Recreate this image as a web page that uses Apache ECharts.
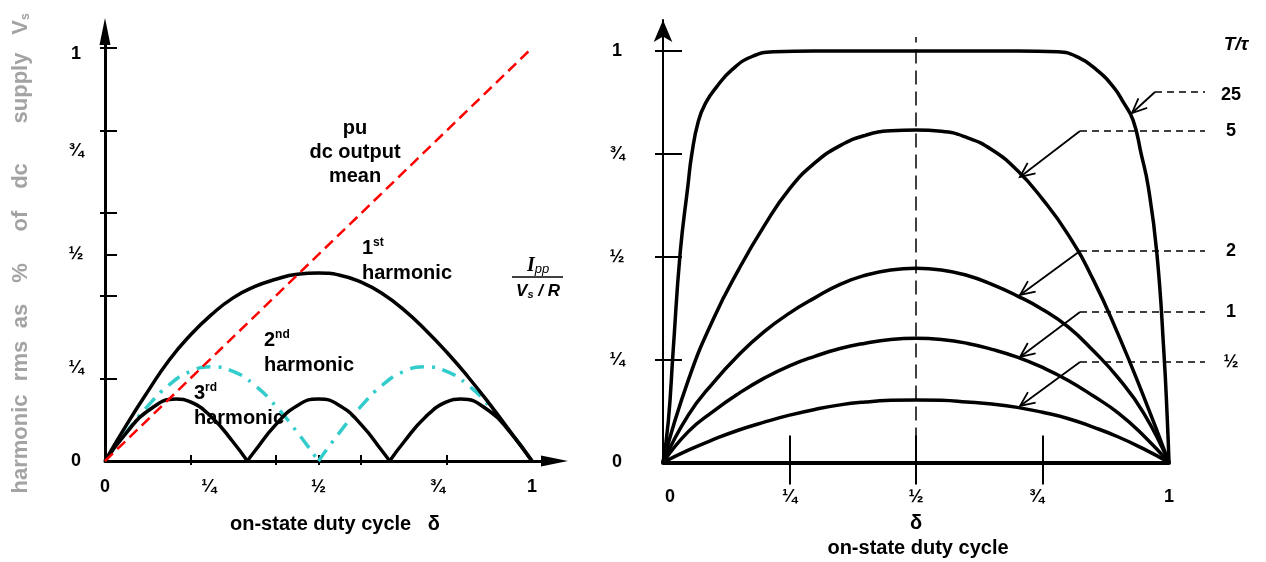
<!DOCTYPE html>
<html><head><meta charset="utf-8">
<script src="https://cdn.jsdelivr.net/npm/echarts@6/dist/echarts.min.js"></script>
<style>html,body{margin:0;padding:0;background:#fff}#c{width:1266px;height:562px}</style>
</head><body><div id="c"></div>
<script>
// ---------- data ----------
const tickLabelValues = [0, 0.25, 0.5, 0.75, 1];
const tickLabelText = {0: '0', 0.25: '¼', 0.5: '½', 0.75: '¾', 1: '1'};
const leftMinorTicks = [0.2, 0.4, 0.5, 0.6, 0.8, 1];
const leftMinorTicksOut = [0.2, 0.4, 0.6, 0.8, 1];
const leftXTicks = [0.2, 0.4, 0.5, 0.6, 0.8];
const rightXTicks = [0.25, 0.5, 0.75];
const rightYTicks = [0.25, 0.5, 0.75, 1];

// left panel: harmonics vs duty cycle
const dcMean = [[0, 0], [1, 1]];
const harm1 = [[0,0],[0.05,0.087],[0.1,0.168],[0.15,0.244],[0.2,0.305],[0.25,0.355],[0.3,0.395],[0.35,0.422],[0.4,0.44],[0.45,0.452],[0.5,0.455],
  [0.55,0.45],[0.6,0.433],[0.65,0.405],[0.7,0.366],[0.75,0.318],[0.8,0.264],[0.85,0.204],[0.9,0.139],[0.95,0.07],[1,0]];
const harm2a = [[0,0],[0.05,0.07],[0.1,0.133],[0.15,0.184],[0.2,0.217],[0.25,0.228],[0.3,0.217],[0.35,0.184],[0.4,0.133],[0.45,0.07],[0.5,0]];
const harm2b = [[0.5,0],[0.55,0.07],[0.6,0.133],[0.65,0.184],[0.7,0.217],[0.75,0.228],[0.8,0.217],[0.85,0.184],[0.9,0.133],[0.95,0.07],[1,0]];
const harm3a = [[0,0],[0.05,0.068],[0.1,0.121],[0.1667,0.15],[0.2,0.143],[0.25,0.106],[0.3,0.046],[0.3333,0]];
const harm3b = [[0.3333,0],[0.35,0.023],[0.4,0.088],[0.45,0.134],[0.5,0.15],[0.55,0.134],[0.6,0.088],[0.65,0.023],[0.6667,0]];
const harm3c = [[0.6667,0],[0.7,0.046],[0.75,0.106],[0.8,0.143],[0.8333,0.15],[0.9,0.121],[0.95,0.068],[1,0]];

// right panel: ripple current Ipp/(Vs/R) vs duty cycle
const delta = [0,0.05,0.1,0.15,0.2,0.25,0.3,0.35,0.4,0.45,0.5,0.55,0.6,0.65,0.7,0.75,0.8,0.85,0.9,0.95,1];
const ripple5 = [0,0.20,0.35,0.47,0.575,0.665,0.728,0.77,0.795,0.806,0.808,0.805,0.79,0.76,0.71,0.64,0.555,0.445,0.31,0.16,0];
const ripple2 = [0,0.115,0.195,0.262,0.318,0.363,0.40,0.433,0.455,0.468,0.472,0.468,0.455,0.433,0.405,0.372,0.33,0.272,0.205,0.12,0];
const ripple1 = [0,0.075,0.125,0.168,0.205,0.235,0.258,0.277,0.29,0.299,0.302,0.299,0.29,0.275,0.256,0.231,0.20,0.162,0.12,0.065,0];
const rippleHalf = [0,0.03,0.056,0.079,0.098,0.115,0.129,0.14,0.147,0.151,0.152,0.151,0.147,0.142,0.134,0.122,0.107,0.086,0.062,0.033,0];
const ripple25 = [[0,0],[0.0105,0.10],[0.02,0.27],[0.034,0.51],[0.049,0.67],[0.057,0.75],[0.07,0.83],[0.085,0.875],[0.106,0.913],[0.136,0.954],[0.175,0.986],[0.22,0.998],[0.3,1],[0.4,1],[0.5,1],[0.6,1],[0.7,1],[0.78,0.998],[0.82,0.985],[0.857,0.954],[0.89,0.913],[0.91,0.875],[0.929,0.832],[0.945,0.75],[0.959,0.67],[0.976,0.509],[0.99,0.266],[0.9967,0.103],[1,0]];
const halfLine = [[0.5, 0], [0.5, 1.034]];
const rippleLabels = ['25', '5', '2', '1', '½'];

// ---------- layout ----------
const FONT = '"Liberation Sans", Arial, sans-serif';
const pairs = (xs, ys) => xs.map((x, i) => [x, ys[i]]);
const annot = [
  {y: 92, sx: 1155, tip: [1132, 113]},
  {y: 131, sx: 1080, tip: [1020, 177]},
  {y: 251, sx: 1080, tip: [1020, 295]},
  {y: 312, sx: 1080, tip: [1020, 357]},
  {y: 362, sx: 1080, tip: [1020, 406]}
];

const chart = echarts.init(document.getElementById('c'), null, {renderer: 'canvas', width: 1266, height: 562});

const labelStyle = {fontFamily: FONT, fontWeight: 'bold', fontSize: 18, color: '#000'};
function lineS(data, xi, yi, style, smooth) {
  return {type: 'line', xAxisIndex: xi, yAxisIndex: yi, data: data, symbol: 'none', showSymbol: false,
    smooth: smooth === undefined ? 0.5 : smooth, lineStyle: style, silent: true, clip: false, animation: false};
}

const graphics = [];
// left y-axis name words (rotated, grey)
const yWords = [['harmonic', 444], ['rms', 361], ['as', 316], ['%', 273], ['of', 221], ['dc', 176], ['supply', 88]];
yWords.forEach(([w, y]) => graphics.push({type: 'text', x: 21, y: y, rotation: Math.PI / 2,
  style: {text: w, fill: '#a3a3a3', font: 'bold 22px ' + FONT, textAlign: 'center', textVerticalAlign: 'middle'}}));
graphics.push({type: 'text', x: 21, y: 24, rotation: Math.PI / 2,
  style: {text: '{v|V}{s|s}', textAlign: 'center', textVerticalAlign: 'middle',
    rich: {v: {fill: '#a3a3a3', font: 'bold 22px ' + FONT}, s: {fill: '#a3a3a3', font: 'bold 12px ' + FONT, padding: [10, 0, 0, 0]}}}});

// left panel labels
graphics.push({type: 'text', x: 355, y: 152, style: {text: 'pu\ndc output\nmean', fill: '#000', font: 'bold 20px ' + FONT, textAlign: 'center', textVerticalAlign: 'middle', lineHeight: 24}});
function ordLabel(num, sup, x, y) {
  graphics.push({type: 'text', x: x, y: y, style: {text: '{n|' + num + '}{s|' + sup + '}\n{h|harmonic}', textAlign: 'left', textVerticalAlign: 'middle',
    rich: {n: {fill: '#000', font: 'bold 20px ' + FONT, lineHeight: 26}, s: {fill: '#000', font: 'bold 12px ' + FONT, padding: [0, 0, 10, 0], lineHeight: 26}, h: {fill: '#000', font: 'bold 20px ' + FONT, lineHeight: 24}}}});
}
ordLabel('1', 'st', 362, 260);
ordLabel('2', 'nd', 264, 352);
ordLabel('3', 'rd', 194, 405);
// Ipp / (Vs/R)
graphics.push({type: 'text', x: 538, y: 266, style: {text: '{i|I}{p|pp}', textAlign: 'center', textVerticalAlign: 'middle',
  rich: {i: {fill: '#000', font: 'italic bold 20px "Liberation Serif", serif'}, p: {fill: '#000', font: 'italic 13px ' + FONT, padding: [6, 0, 0, 0]}}}});
graphics.push({type: 'line', shape: {x1: 512, y1: 277, x2: 563, y2: 277}, style: {stroke: '#000', lineWidth: 1.5}});
graphics.push({type: 'text', x: 538, y: 291, style: {text: '{v|V}{s|s}{r| / R}', textAlign: 'center', textVerticalAlign: 'middle',
  rich: {v: {fill: '#000', font: 'italic bold 17px ' + FONT}, s: {fill: '#000', font: 'italic bold 11px ' + FONT, padding: [7, 0, 0, 0]}, r: {fill: '#000', font: 'italic bold 17px ' + FONT}}}});
graphics.push({type: 'text', x: 335, y: 524, style: {text: 'on-state duty cycle   δ', fill: '#000', font: 'bold 20px ' + FONT, textAlign: 'center', textVerticalAlign: 'middle'}});

// right panel labels
graphics.push({type: 'text', x: 1236, y: 45, style: {text: 'T/τ', fill: '#000', font: 'italic bold 19px ' + FONT, textAlign: 'center', textVerticalAlign: 'middle'}});
graphics.push({type: 'text', x: 916, y: 523, style: {text: 'δ', fill: '#000', font: 'bold 20px ' + FONT, textAlign: 'center', textVerticalAlign: 'middle'}});
graphics.push({type: 'text', x: 918, y: 548, style: {text: 'on-state duty cycle', fill: '#000', font: 'bold 20px ' + FONT, textAlign: 'center', textVerticalAlign: 'middle'}});
annot.forEach((a, i) => {
  graphics.push({type: 'line', shape: {x1: a.sx, y1: a.y, x2: 1205, y2: a.y}, style: {stroke: '#000', lineWidth: 1.5, lineDash: [7, 5]}});
  graphics.push({type: 'line', shape: {x1: a.sx, y1: a.y, x2: a.tip[0], y2: a.tip[1]}, style: {stroke: '#000', lineWidth: 1.8}});
  const dx = a.sx - a.tip[0], dy = a.y - a.tip[1], L = Math.hypot(dx, dy);
  const ux = dx / L, uy = dy / L, ang = 0.42, len = 16;
  const p1 = [a.tip[0] + len * (ux * Math.cos(ang) - uy * Math.sin(ang)), a.tip[1] + len * (ux * Math.sin(ang) + uy * Math.cos(ang))];
  const p2 = [a.tip[0] + len * (ux * Math.cos(-ang) - uy * Math.sin(-ang)), a.tip[1] + len * (ux * Math.sin(-ang) + uy * Math.cos(-ang))];
  graphics.push({type: 'polyline', shape: {points: [p1, a.tip, p2]}, style: {stroke: '#000', lineWidth: 1.8, fill: null}});
  graphics.push({type: 'text', x: 1231, y: a.y + (i === 0 ? 3 : 0), style: {text: rippleLabels[i], fill: '#000', font: 'bold 18px ' + FONT, textAlign: 'center', textVerticalAlign: 'middle'}});
});

// tick labels with small per-label nudges (as printed in the source figure)
const richShift = {
  d: {}, r: {padding: [0, 6, 0, 0]}, rr: {padding: [0, 0, 0, 24]},
  dn: {padding: [12, 0, 0, 0]}, dn2: {padding: [20, 0, 0, 0]}, ll: {padding: [0, 12, 0, 0]}, lr: {padding: [0, 0, 0, 14]}
};
const mkFmt = shifts => v => {
  const t = tickLabelText[v];
  if (t === undefined) return '';
  return '{' + (shifts[v] || 'd') + '|' + t + '}';
};
const leftXFmt = mkFmt({0.25: 'r', 0.75: 'rr'});
const leftYFmt = mkFmt({1: 'dn', 0.25: 'dn2'});
const rightXFmt = mkFmt({0: 'lr', 0.75: 'll'});
const rightYFmt = mkFmt({});
const lab = (fmt, margin, extra) => Object.assign({show: true, customValues: tickLabelValues, formatter: fmt, margin: margin, rich: richShift}, labelStyle, extra || {});

const option = {
  animation: false,
  backgroundColor: '#fff',
  grid: [
    {left: 105, top: 31.5, width: 449.5, height: 429.5},
    {left: 663, top: 20, width: 506, height: 442.5}
  ],
  visualMap: [{type: 'piecewise', show: false, seriesIndex: 5, dimension: 0,
    pieces: [{gt: 0.603, lte: 0.658, color: '#8c8c8c'}], outOfRange: {color: '#000'}}],
  xAxis: [
    {type: 'value', gridIndex: 0, min: 0, max: 1.0527, splitLine: {show: false},
      axisLine: {show: true, symbol: ['none', 'triangle'], symbolSize: [11, 27], lineStyle: {color: '#000', width: 3}},
      axisTick: {show: true, inside: true, length: 6, customValues: leftXTicks, lineStyle: {color: '#000', width: 2}},
      axisLabel: lab(leftXFmt, 17)},
    {type: 'value', gridIndex: 0, min: 0, max: 1.0527, position: 'bottom', splitLine: {show: false},
      axisLine: {show: false}, axisTick: {show: true, inside: false, length: 4, customValues: leftXTicks, lineStyle: {color: '#000', width: 2}},
      axisLabel: {show: false}},
    {type: 'value', gridIndex: 1, min: 0, max: 1, splitLine: {show: false},
      axisLine: {show: true, lineStyle: {color: '#000', width: 4}},
      axisTick: {show: true, inside: true, length: 27, customValues: rightXTicks, lineStyle: {color: '#000', width: 2}},
      axisLabel: lab(rightXFmt, 26)},
    {type: 'value', gridIndex: 1, min: 0, max: 1, position: 'bottom', splitLine: {show: false},
      axisLine: {show: false}, axisTick: {show: true, inside: false, length: 22, customValues: rightXTicks, lineStyle: {color: '#000', width: 2}},
      axisLabel: {show: false}}
  ],
  yAxis: [
    {type: 'value', gridIndex: 0, min: 0, max: 1.04, splitLine: {show: false},
      axisLine: {show: true, symbol: ['none', 'triangle'], symbolSize: [11, 27], lineStyle: {color: '#000', width: 3}},
      axisTick: {show: true, inside: true, length: 12, customValues: leftMinorTicks, lineStyle: {color: '#000', width: 2}},
      axisLabel: lab(leftYFmt, 29, {align: 'center'})},
    {type: 'value', gridIndex: 0, min: 0, max: 1.04, position: 'left', splitLine: {show: false},
      axisLine: {show: false}, axisTick: {show: true, inside: false, length: 5, customValues: leftMinorTicksOut, lineStyle: {color: '#000', width: 2}},
      axisLabel: {show: false}},
    {type: 'value', gridIndex: 1, min: 0, max: 1.0753, splitLine: {show: false},
      axisLine: {show: true, symbol: ['none', 'arrow'], symbolSize: [14, 22], lineStyle: {color: '#000', width: 2}},
      axisTick: {show: true, inside: true, length: 19, customValues: rightYTicks, lineStyle: {color: '#000', width: 2}},
      axisLabel: lab(rightYFmt, 46, {align: 'center'})},
    {type: 'value', gridIndex: 1, min: 0, max: 1.0753, position: 'left', splitLine: {show: false},
      axisLine: {show: false}, axisTick: {show: true, inside: false, length: 8, customValues: rightYTicks, lineStyle: {color: '#000', width: 2}},
      axisLabel: {show: false}}
  ],
  series: [
    lineS(harm2a, 0, 0, {color: '#33cccc', width: 3.5, type: [14, 8, 3, 8]}),
    lineS(harm2b, 0, 0, {color: '#33cccc', width: 3.5, type: [14, 8, 3, 8]}),
    lineS(harm3a, 0, 0, {color: '#000', width: 3.5}),
    lineS(harm3b, 0, 0, {color: '#000', width: 3.5}),
    lineS(harm3c, 0, 0, {color: '#000', width: 3.5}),
    lineS(harm1, 0, 0, {color: '#000', width: 3.5}),
    lineS(dcMean, 0, 0, {color: '#ff0000', width: 2.5, type: [11, 6]}, false),
    lineS(halfLine, 2, 2, {color: '#000', width: 1.5, type: [14, 7]}, false),
    lineS(ripple25, 2, 2, {color: '#000', width: 3.5}),
    lineS(pairs(delta, ripple5), 2, 2, {color: '#000', width: 3.5}),
    lineS(pairs(delta, ripple2), 2, 2, {color: '#000', width: 3.5}),
    lineS(pairs(delta, ripple1), 2, 2, {color: '#000', width: 3.5}),
    lineS(pairs(delta, rippleHalf), 2, 2, {color: '#000', width: 3.5})
  ],
  graphic: graphics
};
chart.setOption(option);
</script></body></html>
